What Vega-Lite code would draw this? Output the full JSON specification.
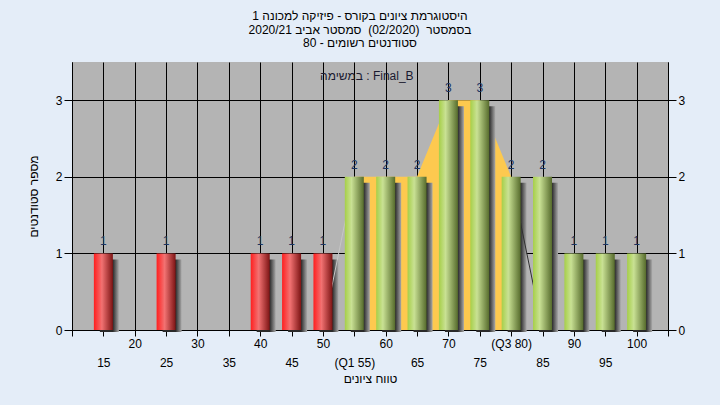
{
  "$schema": "https://vega.github.io/schema/vega-lite/v6.json",
  "width": 596,
  "height": 268,
  "autosize": {"type": "none"},
  "padding": {"left": 72, "top": 62, "right": 52, "bottom": 75},
  "background": "#e4edf8",
  "config": {
    "view": {"fill": "#b4b4b4", "stroke": null},
    "font": "Liberation Sans, DejaVu Sans, sans-serif"
  },
  "title": {
    "text": [
      "\u202Bהיסטוגרמת ציונים בקורס - פיזיקה למכונה 1\u202C",
      "\u202Bבסמסטר\u00A0 (02/2020)\u00A0 סמסטר אביב 2020/21\u202C",
      "\u202Bסטודנטים רשומים - 80\u202C"
    ],
    "fontSize": 12,
    "fontWeight": "normal",
    "color": "#000000",
    "lineHeight": 13.5,
    "offset": 12,
    "dx": -10,
    "anchor": "middle"
  },
  "datasets": {
    "hist": [
      {"grade": 15, "count": 1, "status": "fail"},
      {"grade": 25, "count": 1, "status": "fail"},
      {"grade": 40, "count": 1, "status": "fail"},
      {"grade": 45, "count": 1, "status": "fail"},
      {"grade": 50, "count": 1, "status": "fail"},
      {"grade": 55, "count": 2, "status": "pass"},
      {"grade": 60, "count": 2, "status": "pass"},
      {"grade": 65, "count": 2, "status": "pass"},
      {"grade": 70, "count": 3, "status": "pass"},
      {"grade": 75, "count": 3, "status": "pass"},
      {"grade": 80, "count": 2, "status": "pass"},
      {"grade": 85, "count": 2, "status": "pass"},
      {"grade": 90, "count": 1, "status": "pass"},
      {"grade": 95, "count": 1, "status": "pass"},
      {"grade": 100, "count": 1, "status": "pass"}
    ],
    "edges": [
      {"grade": 50, "count": 0, "side": "left"},
      {"grade": 55, "count": 2, "side": "left"},
      {"grade": 80, "count": 2, "side": "right"},
      {"grade": 85, "count": 0, "side": "right"}
    ]
  },
  "resolve": {
    "scale": {"x": "shared", "y": "shared"},
    "axis": {"x": "independent", "y": "independent"}
  },
  "layer": [
    {
      "data": {"name": "hist"},
      "transform": [{"filter": "datum.grade >= 55 && datum.grade <= 80"}],
      "mark": {"type": "area", "color": "#fdc94f", "opacity": 1},
      "encoding": {
        "x": {
          "field": "grade", "type": "quantitative",
          "scale": {"domain": [10, 105], "nice": false, "zero": false, "padding": 0},
          "axis": {
            "orient": "bottom",
            "values": [10, 15, 20, 25, 30, 35, 40, 45, 50, 55, 60, 65, 70, 75, 80, 85, 90, 95, 100, 105],
            "grid": true, "gridColor": "#000000", "gridOpacity": 1, "gridWidth": 1,
            "domainColor": "#000000", "tickColor": "#000000", "tickSize": 6,
            "labelExpr": "datum.value == 80 ? '(Q3 80)' : ((datum.value % 10 == 0 && datum.value >= 20 && datum.value <= 100) ? datum.label : '')",
            "labelPadding": 2, "labelFontSize": 12, "labelColor": "#000000",
            "labelOverlap": false, "labelFlush": false, "title": null
          }
        },
        "y": {
          "field": "count", "type": "quantitative",
          "scale": {"domain": [0, 3.5], "nice": false, "padding": 0},
          "axis": {
            "orient": "left",
            "values": [0, 1, 2, 3],
            "grid": true, "gridColor": "#000000", "gridOpacity": 1, "gridWidth": 1,
            "domainColor": "#000000", "tickColor": "#000000", "tickSize": 8,
            "labelPadding": 2, "labelFontSize": 12, "labelColor": "#000000",
            "title": "מספר סטודנטים", "titleFontSize": 12, "titleFontWeight": "normal",
            "titleColor": "#000000", "titlePadding": 15
          }
        }
      }
    },
    {
      "data": {"name": "hist"},
      "mark": {
        "type": "bar", "size": 19, "xOffset": 6, "yOffset": 6, "y2Offset": 2,
        "color": {
          "gradient": "linear", "x1": 0, "y1": 0, "x2": 1, "y2": 0,
          "stops": [
            {"offset": 0, "color": "#2a2a2a"},
            {"offset": 0.68, "color": "#2a2a2a"},
            {"offset": 1, "color": "#a8a8a8"}
          ]
        }
      },
      "encoding": {
        "x": {"field": "grade", "type": "quantitative", "axis": null},
        "y": {"field": "count", "type": "quantitative", "axis": null, "stack": null},
        "y2": {"datum": 0}
      }
    },
    {
      "data": {"name": "edges"},
      "mark": {"type": "line", "strokeWidth": 1},
      "encoding": {
        "x": {
          "field": "grade", "type": "quantitative",
          "axis": {
            "orient": "bottom",
            "values": [15, 25, 35, 45, 55, 65, 75, 85, 95],
            "grid": false, "ticks": false, "tickSize": 0, "domain": false,
            "labelExpr": "datum.value == 55 ? '(Q1 55)' : datum.label",
            "labelPadding": 27, "labelFontSize": 12, "labelColor": "#000000",
            "labelOverlap": false, "labelFlush": false,
            "title": "טווח ציונים", "titleFontSize": 12, "titleFontWeight": "normal",
            "titleColor": "#000000", "titlePadding": 5
          }
        },
        "y": {
          "field": "count", "type": "quantitative",
          "axis": {
            "orient": "right",
            "values": [0, 1, 2, 3],
            "grid": false,
            "domainColor": "#000000", "tickColor": "#000000", "tickSize": 8,
            "labelPadding": 2, "labelFontSize": 12, "labelColor": "#000000",
            "title": null
          }
        },
        "color": {
          "field": "side", "type": "nominal",
          "scale": {"domain": ["left", "right"], "range": ["#c6c6c6", "#303030"]},
          "legend": null
        }
      }
    },
    {
      "data": {"name": "hist"},
      "transform": [{"filter": "datum.status == 'fail'"}],
      "mark": {
        "type": "bar", "size": 19,
        "color": {
          "gradient": "linear", "x1": 0, "y1": 0, "x2": 1, "y2": 0,
          "stops": [
            {"offset": 0, "color": "#ff1f1f"},
            {"offset": 0.42, "color": "#f27272"},
            {"offset": 1, "color": "#7d1414"}
          ]
        }
      },
      "encoding": {
        "x": {"field": "grade", "type": "quantitative", "axis": null},
        "y": {"field": "count", "type": "quantitative", "axis": null}
      }
    },
    {
      "data": {"name": "hist"},
      "transform": [{"filter": "datum.status == 'pass'"}],
      "mark": {
        "type": "bar", "size": 19,
        "color": {
          "gradient": "linear", "x1": 0, "y1": 0, "x2": 1, "y2": 0,
          "stops": [
            {"offset": 0, "color": "#a6cf48"},
            {"offset": 0.35, "color": "#c9e194"},
            {"offset": 1, "color": "#566b2c"}
          ]
        }
      },
      "encoding": {
        "x": {"field": "grade", "type": "quantitative", "axis": null},
        "y": {"field": "count", "type": "quantitative", "axis": null}
      }
    },
    {
      "data": {"name": "hist"},
      "mark": {"type": "text", "baseline": "alphabetic", "dy": -8, "fontSize": 12, "color": "#1c3462"},
      "encoding": {
        "x": {"field": "grade", "type": "quantitative", "axis": null},
        "y": {"field": "count", "type": "quantitative", "axis": null},
        "text": {"field": "count", "type": "quantitative"}
      }
    },
    {
      "data": {"values": [{"label": "במשימה : Final_B"}]},
      "mark": {"type": "text", "fontSize": 12, "color": "#1a1a30", "baseline": "middle"},
      "encoding": {
        "x": {"datum": 57, "type": "quantitative", "axis": null},
        "y": {"datum": 3.32, "type": "quantitative", "axis": null},
        "text": {"field": "label", "type": "nominal"}
      }
    }
  ]
}
